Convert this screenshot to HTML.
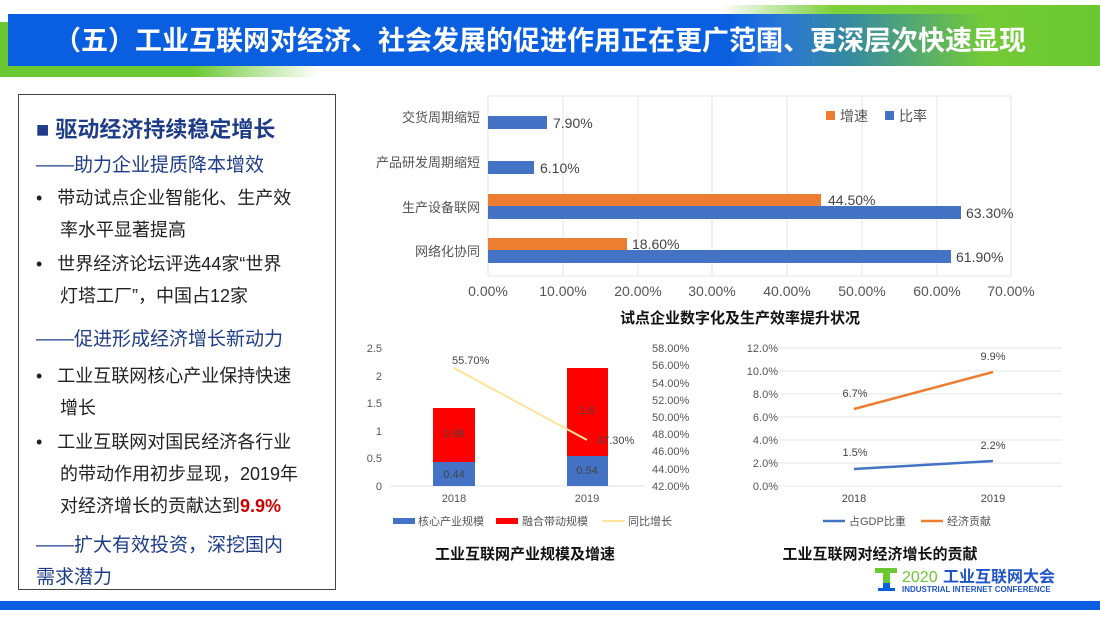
<!DOCTYPE html>
<html><head><meta charset="utf-8"><style>
body{margin:0;width:1100px;height:618px;overflow:hidden;background:#fff;font-family:"Liberation Sans","Noto Sans CJK SC",sans-serif;position:relative}
.a{position:absolute;white-space:nowrap}
.lb{position:absolute;left:18px;top:94px;width:316px;height:494px;border:1.5px solid #444}
.t{font-size:18px;color:#222;line-height:32px}
.s{font-size:19px;color:#1f3c88}
</style></head><body>
<div class="a" style="left:0;top:22px;width:320px;height:55px;background:linear-gradient(90deg,#6cc832 60%,rgba(108,200,50,0))"></div>
<div class="a" style="left:720px;top:5px;width:380px;height:61px;background:linear-gradient(90deg,rgba(108,200,50,0),#7ccf3c 30%,#6cc832)"></div>
<div class="a" style="left:8px;top:14px;width:1030px;height:52px;background:linear-gradient(90deg,#0a5fe0 0%,#0a5fe0 70%,rgba(10,95,224,0.6) 82%,rgba(10,95,224,0) 95%)"></div>
<div class="a" style="left:30px;top:24px;width:1020px;text-align:center;color:#fff;font-size:27px;font-weight:bold;line-height:34px">（五）工业互联网对经济、社会发展的促进作用正在更广范围、更深层次快速显现</div>

<div class="lb"></div>
<div class="a" style="left:36px;top:112px;font-size:22px;font-weight:bold;color:#1f3c88">■ 驱动经济持续稳定增长</div>
<div class="a s" style="left:36px;top:150px">——助力企业提质降本增效</div>
<div class="a t" style="left:36px;top:182px">•&nbsp;&nbsp;&nbsp;带动试点企业智能化、生产效</div>
<div class="a t" style="left:60px;top:214px">率水平显著提高</div>
<div class="a t" style="left:36px;top:248px">•&nbsp;&nbsp;&nbsp;世界经济论坛评选44家“世界</div>
<div class="a t" style="left:60px;top:280px">灯塔工厂”，中国占12家</div>
<div class="a s" style="left:36px;top:324px">——促进形成经济增长新动力</div>
<div class="a t" style="left:36px;top:360px">•&nbsp;&nbsp;&nbsp;工业互联网核心产业保持快速</div>
<div class="a t" style="left:60px;top:392px">增长</div>
<div class="a t" style="left:36px;top:426px">•&nbsp;&nbsp;&nbsp;工业互联网对国民经济各行业</div>
<div class="a t" style="left:60px;top:458px">的带动作用初步显现，2019年</div>
<div class="a t" style="left:60px;top:490px">对经济增长的贡献达到<b style="color:#c00">9.9%</b></div>
<div class="a s" style="left:36px;top:530px">——扩大有效投资，深挖国内</div>
<div class="a s" style="left:36px;top:562px">需求潜力</div>

<svg class="a" style="left:0;top:0" width="1100" height="618" font-family="Liberation Sans,Noto Sans CJK SC,sans-serif">
<g stroke="#e6e6e6" stroke-width="1">
<line x1="488" y1="96" x2="488" y2="276"/><line x1="563" y1="96" x2="563" y2="276"/><line x1="638" y1="96" x2="638" y2="276"/><line x1="712" y1="96" x2="712" y2="276"/><line x1="787" y1="96" x2="787" y2="276"/><line x1="862" y1="96" x2="862" y2="276"/><line x1="937" y1="96" x2="937" y2="276"/><line x1="1011" y1="96" x2="1011" y2="276"/>
<line x1="488" y1="96" x2="1011" y2="96"/><line x1="488" y1="276" x2="1011" y2="276"/>
</g>
<g fill="#4472c4"><rect x="488" y="116" width="59" height="13"/><rect x="488" y="161" width="46" height="13"/><rect x="488" y="206" width="473" height="13"/><rect x="488" y="250" width="463" height="13"/></g>
<g fill="#ed7d31"><rect x="488" y="194" width="333" height="12"/><rect x="488" y="238" width="139" height="12"/></g>
<g font-size="14" fill="#444"><text x="553" y="128">7.90%</text><text x="540" y="173">6.10%</text><text x="828" y="205">44.50%</text><text x="966" y="218">63.30%</text><text x="632" y="249">18.60%</text><text x="956" y="262">61.90%</text></g>
<g font-size="13" fill="#555" text-anchor="end"><text x="480" y="122">交货周期缩短</text><text x="480" y="167">产品研发周期缩短</text><text x="480" y="212">生产设备联网</text><text x="480" y="256">网络化协同</text></g>
<g font-size="14" fill="#555" text-anchor="middle"><text x="488" y="296">0.00%</text><text x="563" y="296">10.00%</text><text x="638" y="296">20.00%</text><text x="712" y="296">30.00%</text><text x="787" y="296">40.00%</text><text x="862" y="296">50.00%</text><text x="937" y="296">60.00%</text><text x="1011" y="296">70.00%</text></g>
<rect x="826" y="111" width="9" height="9" fill="#ed7d31"/><text x="840" y="121" font-size="14" fill="#555">增速</text>
<rect x="885" y="111" width="9" height="9" fill="#4472c4"/><text x="899" y="121" font-size="14" fill="#555">比率</text>
<text x="740" y="323" font-size="15" font-weight="bold" text-anchor="middle" fill="#111">试点企业数字化及生产效率提升状况</text>

<g stroke="#e0e0e0"><line x1="390" y1="486" x2="645" y2="486"/></g>
<g font-size="11" fill="#555" text-anchor="end"><text x="382" y="490">0</text><text x="382" y="462">0.5</text><text x="382" y="435">1</text><text x="382" y="407">1.5</text><text x="382" y="380">2</text><text x="382" y="352">2.5</text></g>
<g font-size="11" fill="#555"><text x="652" y="490">42.00%</text><text x="652" y="473">44.00%</text><text x="652" y="455">46.00%</text><text x="652" y="438">48.00%</text><text x="652" y="421">50.00%</text><text x="652" y="404">52.00%</text><text x="652" y="387">54.00%</text><text x="652" y="369">56.00%</text><text x="652" y="352">58.00%</text></g>
<rect x="433" y="462" width="42" height="24" fill="#4472c4"/><rect x="433" y="408" width="42" height="54" fill="#ff0000"/>
<rect x="567" y="456" width="41" height="30" fill="#4472c4"/><rect x="567" y="368" width="41" height="88" fill="#ff0000"/>
<g font-size="11" fill="#444" text-anchor="middle"><text x="454" y="478">0.44</text><text x="454" y="437">0.98</text><text x="587" y="474">0.54</text><text x="587" y="414">1.6</text></g>
<line x1="454" y1="368" x2="587" y2="440" stroke="#fce49a" stroke-width="2"/>
<g font-size="11" fill="#444"><text x="452" y="364">55.70%</text><text x="597" y="444">47.30%</text></g>
<g font-size="11" fill="#555" text-anchor="middle"><text x="454" y="502">2018</text><text x="587" y="502">2019</text></g>
<rect x="393" y="518" width="22" height="6" fill="#4472c4"/><text x="418" y="525" font-size="11" fill="#555">核心产业规模</text>
<rect x="496" y="518" width="22" height="6" fill="#ff0000"/><text x="522" y="525" font-size="11" fill="#555">融合带动规模</text>
<line x1="603" y1="521" x2="625" y2="521" stroke="#fce49a" stroke-width="2"/><text x="628" y="525" font-size="11" fill="#555">同比增长</text>
<text x="525" y="559" font-size="15" font-weight="bold" text-anchor="middle" fill="#111">工业互联网产业规模及增速</text>

<g stroke="#e4e4e4"><line x1="778" y1="348" x2="1062" y2="348"/><line x1="778" y1="371" x2="1062" y2="371"/><line x1="778" y1="394" x2="1062" y2="394"/><line x1="778" y1="417" x2="1062" y2="417"/><line x1="778" y1="440" x2="1062" y2="440"/><line x1="778" y1="463" x2="1062" y2="463"/><line x1="778" y1="486" x2="1062" y2="486"/></g>
<g font-size="11" fill="#555" text-anchor="end"><text x="778" y="490">0.0%</text><text x="778" y="467">2.0%</text><text x="778" y="444">4.0%</text><text x="778" y="421">6.0%</text><text x="778" y="398">8.0%</text><text x="778" y="375">10.0%</text><text x="778" y="352">12.0%</text></g>
<line x1="854" y1="409" x2="993" y2="372" stroke="#ed7d31" stroke-width="2.5"/>
<line x1="854" y1="469" x2="993" y2="461" stroke="#4472c4" stroke-width="2.5"/>
<g font-size="11" fill="#444" text-anchor="middle"><text x="855" y="397">6.7%</text><text x="993" y="360">9.9%</text><text x="855" y="456">1.5%</text><text x="993" y="449">2.2%</text><text x="854" y="502">2018</text><text x="993" y="502">2019</text></g>
<line x1="823" y1="521" x2="845" y2="521" stroke="#4472c4" stroke-width="2.5"/><text x="849" y="525" font-size="11" fill="#555">占GDP比重</text>
<line x1="921" y1="521" x2="943" y2="521" stroke="#ed7d31" stroke-width="2.5"/><text x="947" y="525" font-size="11" fill="#555">经济贡献</text>
<text x="880" y="559" font-size="15" font-weight="bold" text-anchor="middle" fill="#111">工业互联网对经济增长的贡献</text>

<rect x="875" y="568" width="22" height="5" fill="#6cc832"/><rect x="883" y="573" width="7" height="10" fill="#6cc832"/><rect x="883" y="583" width="7" height="6" fill="#0a5fe0"/><rect x="878" y="588" width="17" height="3" fill="#0a5fe0"/>
<text x="902" y="582" font-size="16" fill="#6cc832">2020</text><text x="943" y="582" font-size="16" font-weight="bold" fill="#1f55c8">工业互联网大会</text>
<text x="902" y="592" font-size="8" font-weight="bold" fill="#1f55c8">INDUSTRIAL INTERNET CONFERENCE</text>
<rect x="0" y="601" width="1100" height="9" fill="#0a5fe0"/>
</svg>
</body></html>
